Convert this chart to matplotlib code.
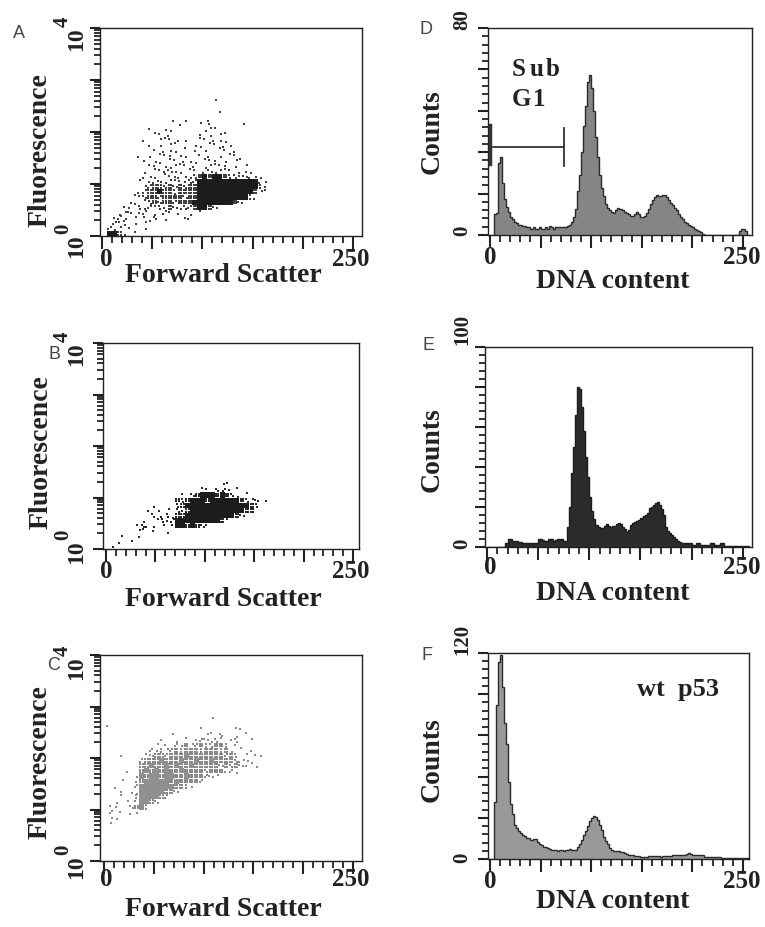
import numpy as np
import matplotlib
matplotlib.use('Agg')
import matplotlib.pyplot as plt
from matplotlib.ticker import MultipleLocator, LogLocator, NullFormatter
from matplotlib.patches import Rectangle
from matplotlib.collections import PatchCollection

W, H = 765, 927
SERIF = 'Liberation Serif'
SANS = 'Liberation Sans'

# ------------------------------------------------------------------ data
panel_letters = ['A', 'B', 'C', 'D', 'E', 'F']
scatter_xlabel = 'Forward Scatter'
scatter_ylabel = 'Fluorescence'
hist_xlabel = 'DNA content'
hist_ylabel = 'Counts'
x_tick_labels = ['0', '250']
hist_ymax = [80, 100, 120]
annot_subg1 = ['Sub', 'G1']
annot_wt = 'wt  p53'

# dot-plot density grids: cell = 5 FSC units x 0.1 decade, rows listed top->bottom
# '-' empty, '.' one event, ':' two events, 'o' four events, '#' solid
cell_w = 5
cell_dec = 0.1
A_top_row = 26
A_grid = [
    "----- ----- ----- ----- --.-- ----- ----",
    "----- ----- ----- ----- ----- ----- ----",
    "----- ----- ----- ----- ----- ----- ----",
    "----- ----- ----- ----- ---.- ----- ----",
    "----- ----- ----. -.--- -.--- ----- ----",
    "----- ----- ----- .---. -.--- ---.- ----",
    "----- ----. --..- ----- ...-- ----- ----",
    "----- ----- ..-.- ----. -.-.. ----- ----",
    "----- ---.- -...- ..--. .-... ----- ----",
    "----- ----. -.-.. ---.. -..-. .---- ----",
    "----- ----- .-... -.-.- .--.. -.--- ----",
    "----- --.-. -...- ..--. -.-.- ..--- ----",
    "----- ---.- ..-.. -...- ...-. -..-- ----",
    "----- ----. .-... ..-.- ..... -.-.- ----",
    "----- ---.- ...:. .-..- .:... .-... ----",
    "----- ---.. .-... ...:o #o##o ::.:. ..--",
    "----- --.-. .:... ..::# ##### ##### #..-",
    "----- ---.: oo:o: o:oo# ##### ##### #:.-",
    "----- --.:o o#oo: oooo# ##### ##### o..-",
    "----- -..:o o:ooo o:oo# ##### ####: .---",
    "----- ..-.: o:oo: ooo## ##### #o:-- ----",
    "----. .-:.: .:.o: .::o# #o:-- ----- ----",
    "---.. :-.:- .-:.- .-.-. ----- ----- ----",
    "--.:. -.-.- :-.-- -..-- ----- ----- ----",
    "--:.: -.-.. ----- ----- ----- ----- ----",
    "-:..- .--.- ----- ----- ----- ----- ----",
    "-##o. -.--- ----- ----- ----- ----- ----",
]
B_top_row = 12
B_grid = [
    "----- ----- ----- ----- ---.. ----- ---",
    "----- ----- ----- ----. .-:.: -.--- ---",
    "----- ----- ----- .-:o# ##o#o :.-.- ---",
    "----- ----- ----o :o### o#### ##o:. :-.",
    "----- ----. ----: o#### ##### ####o :--",
    "----- ---.- .-.-: .o### ##### ###oo ---",
    "----- ----: -.:.o o#### ##### #o:-- ---",
    "----- --.-- .:.:# ##### ###o. ----- ---",
    "----- -.:.. -.-.# #o#o: .---- ----- ---",
    "----- -..-. --.-- ----- ----- ----- ---",
    "---.- -.--- ----- ----- ----- ----- ---",
    "--.-- .---- ----- ----- ----- ----- ---",
    "-.--- ----- ----- ----- ----- ----- ---",
]
C_top_row = 27
C_grid = [
    "----- ----- ----- ----- -.--- ----- ---",
    ".---- ----- ----- ----- ----- ----- ---",
    "----- ----- ----- ----. ----- -..-- ---",
    "----- ----- ---.- ----- ..-:- -.-.- ---",
    "----- ----- -.--. -.-.: :.:.- .:--. ---",
    "----- ----- .-.-: .o.:o ::oo: -.--- ---",
    "----- ----: .:.:o :ooo: ooo:o .-.-. ---",
    "---.- ---.: oo:oo o#ooo oooo: o:-.- ..-",
    "----- --:oo o#ooo #oo#o o#ooo o:.:. ---",
    "----- --oo# oo#o# oo#oo ooo:o :o:.- .--",
    "----. --o#o #o#oo #oooo :ooo. :.--- ---",
    "----- -.#o# #o##o o#ooo ::.-- ----- ---",
    "---.- -.o## ###o# oooo: ----- ----- ---",
    "--.-- -:### ####o o:.-- ----- ----- ---",
    "---.- ..### ##oo: ----- ----- ----- ---",
    "---.- -:### #o:-- ----- ----- ----- ---",
    "--.-. -.##o :---- ----- ----- ----- ---",
    "-..-- :o#:- ----- ----- ----- ----- ---",
    "-:-.- ..--- ----- ----- ----- ----- ---",
    "-..-- ----- ----- ----- ----- ----- ---",
    "-.--- ----- ----- ----- ----- ----- ---",
]

# DNA histograms, channel bins of width 2 starting at 0
bin_w = 2
D_counts = [0, 0, 8, 8.5, 28, 30, 20, 14, 11, 9,
            7, 6, 5, 4.5, 4, 4, 3.5, 3.5, 3, 3,
            2.5, 3, 2.5, 2.5, 3, 2.5, 2.5, 3, 2.5, 3.5,
            3, 2.5, 3, 3, 3, 3, 3, 3, 3.5, 4,
            5, 7, 10, 17, 23, 32, 42, 50, 59, 62,
            57, 48, 38, 30, 23, 18, 15, 12, 10.5, 9.5,
            9, 8.5, 9.5, 10.5, 10, 9.5, 9, 8.5, 8, 7.5,
            7.5, 8, 9, 8, 7, 7, 7.5, 8.5, 10, 12,
            13.5, 14.5, 15.5, 15, 15, 15.5, 15.5, 14.5, 13.5, 12.5,
            11.5, 10.5, 9.5, 8, 7, 6, 5, 4.5, 4, 3.5,
            3, 2.5, 2, 1.5, 1, 0.5, 0, 0, 0, 0,
            0, 0, 0, 0, 0, 0, 0, 0, 0, 0,
            0, 0, 0, 1.5, 2.5, 2.5, 1.5, 0]
E_counts = [0, 0, 0, 0, 0, 0, 0, 0, 0, 2,
            4, 4, 3, 3, 3, 2.5, 2.5, 2, 2, 2,
            2, 2, 2, 2, 2, 4, 4, 3.5, 3, 3,
            4, 4, 3, 3.5, 4, 4, 4, 3, 3, 10,
            20, 37, 50, 66, 80, 79, 70, 58, 45, 35,
            25, 18, 14, 11, 10, 9.5, 9.5, 10.5, 11.5, 10.5,
            10, 10.5, 10.5, 11.5, 12, 11.5, 10, 9, 7.5, 8.5,
            11, 12, 12.5, 13, 13.5, 14.5, 15.5, 16, 17, 19.5,
            20, 21, 22, 22.5, 21, 19, 16, 10, 8, 7,
            6, 5, 4, 3, 2.5, 2, 1.8, 1.8, 1.8, 1.8,
            1, 1, 2, 2, 1, 1, 1, 1, 1, 2,
            2, 1, 1, 1, 2, 2, 0.7, 0.7, 0.7, 0.7,
            0.7, 0.7, 0.7, 0.7, 0.7, 0.7, 0.7, 0.7]
F_counts = [0, 0, 33, 90, 115, 119, 100, 79, 67, 45,
            32, 26, 20, 18, 16.5, 15, 14, 13.5, 12.5, 12,
            11, 11.5, 11.5, 10, 9, 8, 7, 7, 6.5, 6,
            5.5, 5, 5, 4.5, 5, 5, 4.5, 5, 5.5, 6,
            5, 5, 5.5, 7, 9, 11, 14, 16.5, 19.5, 22,
            24, 25, 24.5, 23, 20, 17, 13, 10.5, 8.5, 6.5,
            5.5, 4.5, 4.5, 4.7, 4, 3.9, 3.5, 3, 2.5, 2.5,
            2.4, 2, 1.6, 1.6, 1.3, 1.2, 1.2, 1.4, 1.6, 1.6,
            1.6, 1.8, 1.6, 1.6, 1.4, 1.6, 1.8, 1.6, 1.6, 1.8,
            2.4, 2.4, 2.4, 2.4, 2.4, 2.4, 2.6, 3, 3.5, 3,
            2.2, 2.2, 2.2, 2.2, 2.2, 2.2, 1.4, 1.4, 1.4, 1.2,
            1.2, 1.2, 1.2, 1.2, 0.4, 0.4, 0.4, 0.4, 0.4, 0.4,
            0.4, 0.4, 0.4, 0.4, 0.4, 0.4, 0.4, 0.4]

# Sub-G1 gate on panel D (channel range, count level, end-bar span)
subg1_range = [0, 73]
subg1_level = 34
subg1_bar = [26.5, 41.5]

# ------------------------------------------------------------------ helpers
fig = plt.figure(figsize=(W / 100, H / 100), dpi=100)
fig.patch.set_facecolor('white')
INK = '#222222'


def ax_at(l, t, r, b):
    return fig.add_axes([l / W, 1 - b / H, (r - l) / W, (b - t) / H])


def ftext(x, y, s, **kw):
    kw.setdefault('color', INK)
    return fig.text(x / W, 1 - y / H, s, **kw)


def style_axes(ax):
    for sp in ax.spines.values():
        sp.set_linewidth(1.0)
        sp.set_color(INK)
    ax.xaxis.set_major_locator(MultipleLocator(50))
    ax.xaxis.set_minor_locator(MultipleLocator(10))
    ax.tick_params(axis='x', which='major', length=9, width=1.5, color=INK,
                   labelbottom=False)
    ax.tick_params(axis='x', which='minor', length=5, width=1.3, color=INK)
    ax.tick_params(axis='y', which='major', length=7, width=1.5, color=INK,
                   labelleft=False)
    ax.tick_params(axis='y', which='minor', length=4, width=1.3, color=INK)
    ax.yaxis.set_major_formatter(NullFormatter())
    ax.yaxis.set_minor_formatter(NullFormatter())


# placement of events inside a grid cell (fractions of the cell), varied per cell
single_pos = [(0.3, 0.6), (0.7, 0.3), (0.5, 0.85), (0.2, 0.2),
              (0.8, 0.7), (0.45, 0.4), (0.65, 0.1)]
pair_pos = [[(0.2, 0.3), (0.7, 0.75)], [(0.75, 0.2), (0.3, 0.7)],
            [(0.5, 0.15), (0.4, 0.8)], [(0.15, 0.6), (0.85, 0.4)]]
quad_pos = [(0.25, 0.25), (0.75, 0.25), (0.25, 0.75), (0.75, 0.75)]


def draw_grid(ax, rows, top_row, dot_color, solid_color, dot_size):
    rects, xs, ys = [], [], []
    for r, row in enumerate(rows):
        row = row.replace(' ', '')
        i = top_row - r
        y0 = 10 ** (cell_dec * i)
        y1 = 10 ** (cell_dec * (i + 1))
        for j, ch in enumerate(row):
            x0 = cell_w * j
            if ch == '#':
                rects.append(Rectangle((x0, y0), cell_w, y1 - y0))
                continue
            if ch == '.':
                pts = [single_pos[(3 * i + 5 * j) % len(single_pos)]]
            elif ch == ':':
                pts = pair_pos[(i + 3 * j) % len(pair_pos)]
            elif ch == 'o':
                pts = quad_pos
            else:
                continue
            for fx, fy in pts:
                xs.append(x0 + cell_w * fx)
                ys.append(10 ** (cell_dec * (i + fy)))
    ax.add_collection(PatchCollection(rects, facecolor=solid_color,
                                      edgecolor='none', zorder=2))
    ax.scatter(xs, ys, s=dot_size, marker='s', c=dot_color, linewidths=0,
               zorder=2)


def scatter_panel(box, xlim, grid, top_row, dot_color, solid_color, dot_size):
    ax = ax_at(*box)
    ax.set_yscale('log')
    ax.set_xlim(*xlim)
    ax.set_ylim(1, 1e4)
    style_axes(ax)
    ax.yaxis.set_major_locator(LogLocator(base=10, numticks=10))
    ax.yaxis.set_minor_locator(LogLocator(base=10, subs=np.arange(2, 10),
                                          numticks=20))
    draw_grid(ax, grid, top_row, dot_color, solid_color, dot_size)
    return ax


def hist_panel(box, xlim, ymax, counts, face, edge):
    ax = ax_at(*box)
    ax.set_xlim(*xlim)
    ax.set_ylim(0, ymax)
    style_axes(ax)
    ax.yaxis.set_major_locator(MultipleLocator(ymax / 5))
    ax.yaxis.set_minor_locator(MultipleLocator(ymax / 25))
    edges = np.arange(len(counts) + 1) * bin_w
    ax.stairs(counts, edges, fill=True, color=face, zorder=1)
    ax.stairs(counts, edges, fill=False, color=edge, linewidth=1.0, zorder=1.5)
    return ax


lab_kw = dict(family=SERIF, weight='bold', fontsize=20)
tick_kw = dict(family=SERIF, weight='bold', fontsize=18)
ytk_kw = dict(family=SERIF, weight='bold', fontsize=15)
log_kw = dict(family=SERIF, weight='bold', fontsize=17)
exp_kw = dict(family=SERIF, weight='bold', fontsize=15)
let_kw = dict(family=SANS, fontsize=13, color='#444444')

# ------------------------------------------------------------------ scatter panels
scatter_specs = [
    # box (l,t,r,b), xlim, grid, top row, colours, dot size, letter pos,
    # 10^x boundary ys, ylabel centre, xlabel centre y, tick label y
    ((100, 28, 362, 236), (-2, 259), A_grid, A_top_row, '#404040', '#1c1c1c', 2.6,
     (19, 34), (27, 234), (40, 150), 276, 259),
    ((103, 343, 359, 549), (-3, 256), B_grid, B_top_row, '#2a2a2a', '#1c1c1c', 2.8,
     (54, 355), (342, 540), (41, 452), 600, 572),
    ((100, 655, 362, 861), (-4, 259), C_grid, C_top_row, '#8a8a8a', '#909090', 3.0,
     (54, 665), (656, 855), (40, 762), 910, 880),
]
for k, (box, xl, grid, top, dc, sc, ds, lp, ybd, ylc, xly, tly) in enumerate(scatter_specs):
    scatter_panel(box, xl, grid, top, dc, sc, ds)
    ftext(lp[0], lp[1], panel_letters[k], ha='center', va='center', **let_kw)
    # y tick labels 10^4 (top) and 10^0 (bottom), rotated
    ftext(77, ybd[0], '10', rotation=90, ha='center', va='top', **log_kw)
    ftext(63, ybd[0], '4', rotation=90, ha='center', va='bottom', **exp_kw)
    ftext(77, ybd[1], '10', rotation=90, ha='center', va='top', **log_kw)
    ftext(63, ybd[1], '0', rotation=90, ha='center', va='bottom', **exp_kw)
    ftext(ylc[0], ylc[1], scatter_ylabel, rotation=90, ha='center', va='center', **lab_kw)
    ftext(223, xly, scatter_xlabel, ha='center', va='center', **lab_kw)
    ftext(106, tly, x_tick_labels[0], ha='center', va='center', **tick_kw)
    ftext(351, tly, x_tick_labels[1], ha='center', va='center', **tick_kw)

# ------------------------------------------------------------------ histogram panels
hist_specs = [
    ((488, 28, 752, 235), (-2, 259), D_counts, '#858585', '#2a2a2a',
     (426, 29), (30, 231), 132, 282, 257),
    ((485, 347, 752, 547), (-2, 259), E_counts, '#2b2b2b', '#1c1c1c',
     (428, 346), (345, 544), 450, 593, 568),
    ((488, 653, 749, 859), (-2, 256), F_counts, '#999999', '#2a2a2a',
     (427, 656), (655, 858), 760, 901, 882),
]
hist_axes = []
for k, (box, xl, counts, face, edge, lp, ytl, ylc, xly, tly) in enumerate(hist_specs):
    ymax = hist_ymax[k]
    ax = hist_panel(box, xl, ymax, counts, face, edge)
    hist_axes.append(ax)
    ftext(lp[0], lp[1], panel_letters[3 + k], ha='center', va='center', **let_kw)
    ftext(462, ytl[0], str(ymax), rotation=90, ha='center', va='bottom', **ytk_kw)
    ftext(462, ytl[1], '0', rotation=90, ha='center', va='center', **ytk_kw)
    ftext(432, ylc, hist_ylabel, rotation=90, ha='center', va='center', **lab_kw)
    ftext(613, xly, hist_xlabel, ha='center', va='center', **lab_kw)
    ftext(490, tly, x_tick_labels[0], ha='center', va='center', **tick_kw)
    ftext(742, tly, x_tick_labels[1], ha='center', va='center', **tick_kw)

# Sub G1 gate and labels (panel D)
axD = hist_axes[0]
axD.plot(subg1_range, [subg1_level, subg1_level], color='#333333', lw=1.3,
         clip_on=False, zorder=3)
axD.plot([subg1_range[1]] * 2, subg1_bar, color='#333333', lw=1.3, zorder=3)
axD.plot([subg1_range[0]] * 2, [subg1_bar[0] + 1, subg1_bar[1] + 1],
         color='#333333', lw=2.5, clip_on=False, zorder=3)
sub_kw = dict(ha='left', va='center', family=SERIF, weight='bold', fontsize=18)
for ch, x in zip(annot_subg1[0], [512, 530, 546]):
    ftext(x, 70, ch, **sub_kw)
for ch, x in zip(annot_subg1[1], [512, 533]):
    ftext(x, 100, ch, **sub_kw)

# wt p53 label (panel F)
ftext(637, 696, annot_wt, ha='left', va='baseline', family=SERIF,
      weight='bold', fontsize=19)

fig.savefig('out.png', dpi=100, facecolor='white')
